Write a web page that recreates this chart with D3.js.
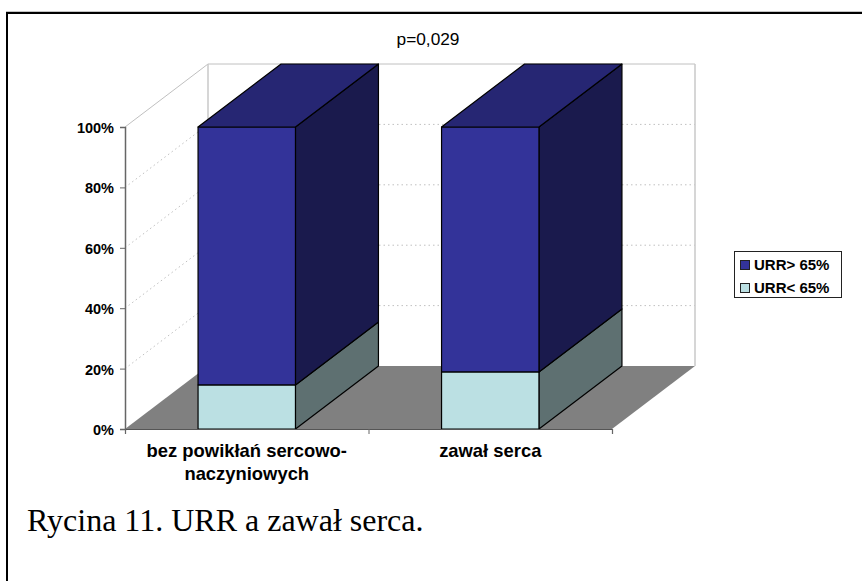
<!DOCTYPE html>
<html lang="pl">
<head>
<meta charset="UTF-8">
<title>Rycina 11</title>
<script src="https://d3js.org/d3.v7.min.js"></script>
<style>
    html, body { margin: 0; padding: 0; background: #fff; }
    svg { display: block; }
    text { font-family: "Liberation Sans", Arial, sans-serif; fill: #000; }
</style>
</head>
<body>
<svg width="862" height="581"></svg>
<script>
const categories = [["bez powikłań sercowo-", "naczyniowych"], ["zawał serca"]];
const seriesNames = ["URR< 65%", "URR> 65%"];
const lowValues = [14.6, 18.9];
const highValues = [85.4, 81.1];
const yTicks = [0, 20, 40, 60, 80, 100];
const legendOrder = [1, 0];
const colors = [
    { front: "#bbe0e3", side: "#5e7071", top: "#8fabad" },
    { front: "#333399", side: "#1a1a4d", top: "#262673" }
];

const svg = d3.select("svg");
const dx = 83, dy = -63;

// page frame, only top and left edges are in the picture
svg.append("line").attr("x1", 6).attr("x2", 862).attr("y1", 11.5).attr("y2", 11.5)
    .attr("stroke", "#c4c4c4");
svg.append("path").attr("d", "M7,581V13H862")
    .attr("fill", "none").attr("stroke", "#000").attr("stroke-width", 2);

const x = d3.scaleBand().domain(d3.range(categories.length)).range([125, 612])
    .paddingInner(0.6).paddingOuter(0.3);
const xEdge = d3.scaleLinear().domain([0, categories.length]).range([125, 612]);
const y = d3.scaleLinear().domain([0, 100]).range([429, 127]);

const poly = pts => pts.map(p => p.join(",")).join(" ");

// walls and floor
const grid = svg.append("g");
grid.append("polygon")
    .attr("points", poly([[x.range()[0], y(0)], [x.range()[1], y(0)], [x.range()[1] + dx, y(0) + dy], [x.range()[0] + dx, y(0) + dy]]))
    .attr("fill", "#808080");

yTicks.filter(t => t > 0).forEach(t => {
    const solid = t === 100;
    grid.append("line")
        .attr("x1", 125).attr("y1", y(t)).attr("x2", 125 + dx).attr("y2", y(t) + dy)
        .attr("stroke", "#c0c0c0").attr("stroke-dasharray", solid ? null : "1.5,3");
    grid.append("line")
        .attr("x1", 125 + dx).attr("y1", y(t) + dy).attr("x2", 612 + dx).attr("y2", y(t) + dy)
        .attr("stroke", "#c0c0c0").attr("stroke-dasharray", solid ? null : "1.5,3");
});
[125 + dx, 612 + dx].forEach(px => {
    grid.append("line").attr("x1", px).attr("x2", px)
        .attr("y1", y(100) + dy).attr("y2", y(0) + dy)
        .attr("stroke", "#c8c8c8").attr("stroke-width", 1.5);
});

// bars
const stacks = categories.map((c, i) => [[0, lowValues[i]], [lowValues[i], lowValues[i] + highValues[i]]]);
const bars = svg.append("g").attr("stroke", "#000").attr("stroke-width", 1.2).attr("stroke-linejoin", "round");
stacks.forEach((stack, i) => {
    const x0 = x(i), x1 = x(i) + x.bandwidth();
    stack.forEach((seg, s) => {
        const c = colors[s], yb = y(seg[0]), yt = y(seg[1]);
        bars.append("polygon").attr("fill", c.side)
            .attr("points", poly([[x1, yb], [x1 + dx, yb + dy], [x1 + dx, yt + dy], [x1, yt]]));
        bars.append("polygon").attr("fill", c.front)
            .attr("points", poly([[x0, yb], [x1, yb], [x1, yt], [x0, yt]]));
        if (s === stack.length - 1) {
            bars.append("polygon").attr("fill", c.top)
                .attr("points", poly([[x0, yt], [x1, yt], [x1 + dx, yt + dy], [x0 + dx, yt + dy]]));
        }
    });
});

// axes
const yAxis = svg.append("g").attr("transform", "translate(125,0)")
    .call(d3.axisLeft(y).tickValues(yTicks).tickFormat(d => d + "%").tickSize(5).tickPadding(6));
yAxis.selectAll("text").attr("font-size", 14.5).attr("font-weight", "bold").attr("dy", "0.38em")
    .style("font-family", '"Liberation Sans", Arial, sans-serif');
yAxis.selectAll("line").attr("stroke", "#666");
yAxis.select(".domain").attr("stroke", "#666").attr("stroke-width", 1.5);

const xAxis = svg.append("g").attr("transform", "translate(0,429)")
    .call(d3.axisBottom(xEdge).tickValues([0, 1, 2]).tickFormat("").tickSize(5));
xAxis.selectAll("line").attr("stroke", "#666");
xAxis.select(".domain").attr("stroke", "#555").attr("stroke-width", 1.2);

categories.forEach((lines, i) => {
    const t = svg.append("text").attr("text-anchor", "middle").attr("font-size", 18.4).attr("font-weight", "bold");
    lines.forEach((l, k) => t.append("tspan").attr("x", x(i) + x.bandwidth() / 2).attr("y", 457 + k * 23).text(l));
});

// title
svg.append("text").attr("x", 428).attr("y", 45).attr("text-anchor", "middle").attr("font-size", 17.3).text("p=0,029");

// legend
const legend = svg.append("g");
legend.append("rect").attr("x", 734.5).attr("y", 251.5).attr("width", 107).attr("height", 46)
    .attr("fill", "#fff").attr("stroke", "#222").attr("stroke-width", 1);
legendOrder.forEach((s, k) => {
    const ly = 262 + k * 23;
    legend.append("rect").attr("x", 740.5).attr("y", ly - 1.5).attr("width", 9).attr("height", 9)
        .attr("fill", colors[s].front).attr("stroke", "#222");
    legend.append("text").attr("x", 754).attr("y", ly + 8).attr("font-size", 15).attr("font-weight", "bold").text(seriesNames[s]);
});

// caption
svg.append("text").attr("x", 27).attr("y", 531)
    .style("font-family", '"Liberation Serif", "Times New Roman", serif').attr("font-size", 32)
    .text("Rycina 11. URR a zawał serca.");
</script>
</body>
</html>
